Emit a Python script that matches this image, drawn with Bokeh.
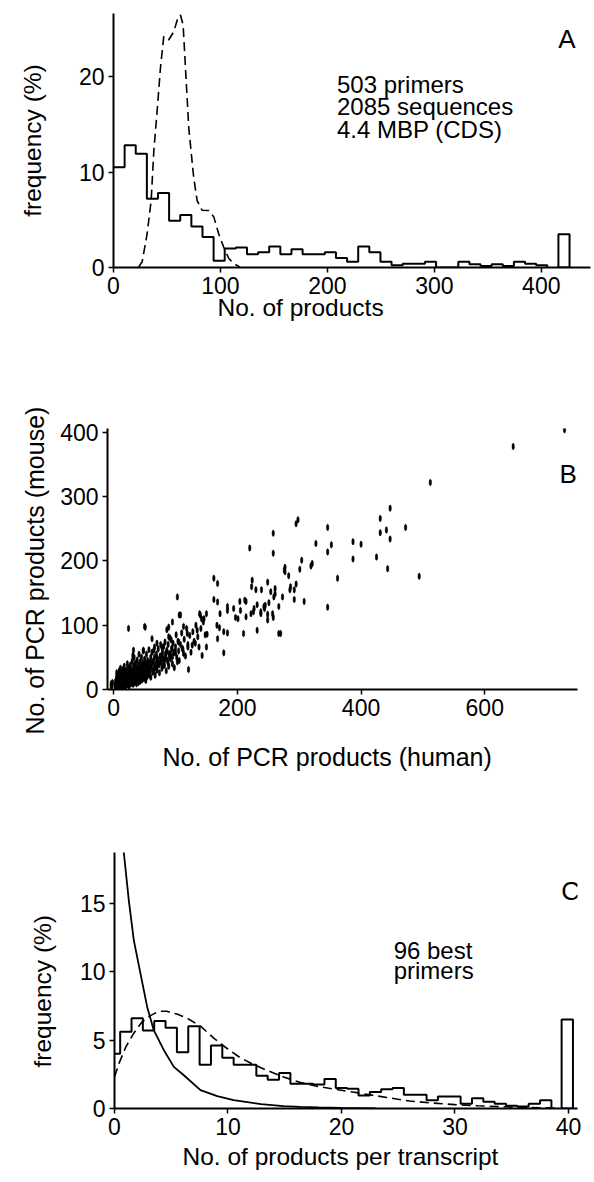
import numpy as np
from bokeh.plotting import figure
from bokeh.layouts import column
from bokeh.models import Range1d, Label, FixedTicker, Title
from bokeh.embed import file_html
from bokeh.resources import INLINE

FONT = "Liberation Sans"

# ---------------- Panel A data ----------------
a_bin_width = 10.4
a_freq = [10.5, 12.8, 11.9, 7.2, 7.8, 4.9, 5.5, 4.3, 3.2, 0.7,
          2.0, 2.1, 1.4, 1.6, 2.2, 1.4, 1.9, 1.4, 1.4, 1.6,
          1.0, 0.6, 2.2, 1.6, 0.6, 0.24, 0.4, 0.4, 0.6, 0.0,
          0.0, 0.6, 0.35, 0.17, 0.35, 0.17, 0.6, 0.4, 0.24]
a_over_lo, a_over_hi, a_over_val = 416.0, 426.4, 3.47
a_model_x = [23.6, 26.8, 31.4, 35.2, 37.7, 40.8, 43.9, 47.0, 51.7, 56.4, 59.5, 62.6,
             65.1, 67.3, 70.4, 75.0, 78.2, 82.8, 89.0, 93.8, 98.4, 103.0, 107.8, 112.4, 118.0]
a_model_y = [0.06, 0.6, 3.5, 7.0, 12.2, 16.4, 20.9, 24.2, 23.85, 24.7, 25.9, 26.45,
             25.4, 20.9, 14.6, 9.4, 7.0, 6.0, 5.97, 5.3, 3.5, 2.15, 0.94, 0.42, 0.06]
a_xticks = [0, 100, 200, 300, 400]
a_yticks = [0, 10, 20]
a_notes = ["503 primers", "2085 sequences", "4.4 MBP (CDS)"]

# ---------------- Panel B data ----------------
b_human = [729, 646, 512, 494, 472, 447, 447, 443, 441, 431, 431, 425, 400, 387, 387, 362,
           352, 346, 346, 346, 327, 321, 319, 308, 304, 301, 298, 295, 295, 292, 292, 285,
           283, 277, 277, 273, 270, 267, 261, 261, 258, 258, 258, 254, 251, 249, 249, 245,
           244, 239, 238, 232, 232, 230, 227, 226, 223, 224, 222, 220, 214, 214, 212, 210,
           205, 204, 201, 197, 194, 184, 184, 184, 178, 178, 172, 171, 168, 168, 168, 167,
           162, 162, 151, 150, 146, 143, 142, 140, 139, 135, 132, 127, 121, 120, 119, 113,
           113, 111, 108, 106, 105, 103, 103, 100, 95, 95, 93, 89, 89, 86, 84, 78,
           76, 70, 65, 62, 51, 50, 48, 32, 31, 24, 257, 259, 267, 243, 238, 249, 286, 276,
           # dense cluster
           -4, -4, -3, -2, 2, 4, 4, 5, 5, 6, 6, 7, 7, 8, 8, 9, 9, 10, 10, 10,
           11, 11, 12, 12, 13, 13, 14, 14, 15, 15, 16, 16, 17, 17, 18, 18, 19, 19, 20, 20,
           21, 21, 22, 22, 23, 23, 24, 24, 25, 25, 26, 26, 27, 27, 28, 28, 29, 29, 30, 30,
           31, 31, 32, 32, 33, 33, 34, 34, 35, 35, 36, 36, 37, 37, 38, 38, 39, 39, 40, 40,
           41, 41, 42, 42, 43, 43, 44, 44, 45, 45, 46, 46, 47, 47, 48, 48, 49, 49, 50, 50,
           51, 52, 52, 53, 53, 54, 55, 55, 56, 57, 57, 58, 59, 60, 60,
           61, 62, 63, 64, 65, 66, 66, 67, 68, 69, 70, 71, 72, 73, 74, 75, 76, 77, 78, 79, 80,
           81, 82, 83, 84, 85, 86, 87, 88, 89, 90, 91, 92, 94, 95, 96, 97, 98, 100, 101, 102,
           104, 105, 106, 108, 110,
           112, 114, 116, 118, 120, 123, 125, 128, 130, 133, 136, 138, 141, 145, 148, 150,
           3, 5, 7, 9, 11, 13, 15, 17, 19, 21, 23, 25, 27, 29, 31, 33, 35, 37, 39, 41,
           43, 45, 47, 49, 51, 53, 55, 57, 59, 4, 8, 12, 16, 20, 24, 28, 32, 36, 40, 44,
           48, 52, 56, 6, 10, 14, 18, 22, 26, 30, 34, 38, 42, 46, 50, 54, 58, 62, 66, 70,
           74, 78, 82, 86, 90, 94, 98, 64, 68, 72, 76, 80, 84, 88, 92]
b_mouse = [404, 378, 322, 176, 252, 282, 234, 188, 248, 266, 244, 206, 226, 230, 203, 173,
           225, 252, 214, 128, 227, 196, 192, 137, 201, 187, 264, 258, 164, 155, 140, 155,
           177, 190, 183, 144, 87, 129, 157, 149, 243, 212, 112, 152, 135, 167, 117, 131,
           126, 155, 121, 132, 92, 155, 126, 121, 160, 170, 118, 220, 137, 113, 139, 87,
           123, 137, 110, 112, 126, 129, 123, 88, 90, 57, 118, 96, 165, 136, 79, 100,
           173, 140, 86, 66, 110, 53, 110, 116, 118, 92, 72, 69, 31, 66, 87, 98,
           56, 64, 116, 116, 74, 144, 43, 58, 105, 51, 77, 97, 82, 93, 56, 66,
           46, 72, 61, 79, 97, 98, 61, 61, 53, 95, 118, 144, 87, 129, 118, 108, 160, 186,
           # dense cluster
           4, 9, 6, 11, 6, 8, 14, 20, 26, 4, 11, 17, 23, 2, 9, 14, 29, 6, 19, 24,
           11, 33, 4, 16, 21, 27, 9, 13, 31, 18, 6, 24, 14, 36, 10, 28, 19, 3, 22, 12,
           30, 7, 16, 40, 25, 11, 19, 33, 5, 14, 27, 21, 38, 9, 17, 31, 24, 12, 44, 20,
           8, 28, 15, 36, 22, 50, 11, 30, 18, 41, 25, 14, 33, 9, 21, 46, 28, 16, 38, 12,
           24, 55, 31, 18, 43, 13, 27, 36, 20, 50, 33, 15, 41, 26, 22, 60, 37, 17, 30, 47,
           25, 40, 14, 55, 33, 20, 45, 28, 37, 24, 62, 42, 30, 50, 19,
           36, 58, 27, 44, 32, 66, 50, 22, 40, 55, 30, 47, 63, 38, 26, 52, 70, 43, 33, 58, 48,
           67, 38, 74, 52, 29, 61, 45, 70, 36, 56, 80, 48, 64, 40, 72, 58, 34, 66, 85, 50,
           75, 60, 45, 70, 88,
           62, 78, 52, 95, 70, 84, 58, 90, 75, 100, 82, 66, 95, 105, 85, 118,
           12, 17, 9, 22, 15, 26, 7, 19, 29, 13, 24, 34, 17, 10, 28, 21, 39, 25, 14, 32,
           23, 36, 29, 19, 43, 27, 35, 23, 40, 3, 5, 8, 4, 10, 7, 13, 9, 16, 11, 18,
           26, 20, 31, 2, 4, 6, 7, 10, 12, 15, 13, 18, 22, 17, 27, 23, 30, 42, 35, 48,
           40, 54, 46, 59, 52, 64, 57, 29, 34, 39, 44, 37, 49, 42, 55]
b_xticks = [0, 200, 400, 600]
b_yticks = [0, 100, 200, 300, 400]

# ---------------- Panel C data ----------------
c_edges = [0.0] + [k + 0.5 for k in range(39)]
c_freq = [4.0, 5.6, 6.6, 5.7, 6.4, 5.9, 4.1, 6.0, 3.2, 4.6,
          3.7, 3.2, 3.2, 2.4, 2.1, 2.6, 1.8, 1.8, 1.75, 2.15,
          1.5, 1.45, 0.95, 1.2, 1.4, 1.5, 1.0, 1.0, 0.6, 0.88,
          0.88, 0.34, 0.75, 0.5, 0.34, 0.2, 0.15, 0.34, 0.6]
c_over_lo, c_over_hi, c_over_val = 39.4, 40.4, 6.5
c_solid_x = [0.6, 0.82, 1.26, 1.7, 2.29, 2.88, 3.46, 4.35, 5.23, 6.11, 7.58, 9.05, 10.5,
             12.9, 14.9, 16.4, 18.0, 20.0, 23.0]
c_solid_y = [23.0, 18.7, 15.2, 12.3, 9.85, 7.42, 5.72, 4.26, 3.04, 2.43, 1.34, 0.9, 0.61,
             0.32, 0.17, 0.12, 0.08, 0.04, 0.0]
c_dash_x = [0.0, 0.4, 1.0, 1.7, 2.4, 3.2, 3.9, 4.6, 5.5, 6.4, 7.6, 8.8, 9.9, 11.1, 12.3, 13.4,
            14.9, 16.4, 18.0, 19.5, 21.0, 22.5, 24.0, 26.0, 28.0, 30.0, 32.0, 34.0, 36.0, 38.0, 39.0]
c_dash_y = [2.3, 3.3, 4.5, 5.5, 6.3, 6.8, 7.1, 7.1, 6.9, 6.6, 6.0, 5.1, 4.4, 3.7, 3.2, 2.8,
            2.3, 1.9, 1.6, 1.4, 1.2, 1.0, 0.8, 0.55, 0.4, 0.28, 0.2, 0.13, 0.08, 0.05, 0.03]
c_xticks = [0, 10, 20, 30, 40]
c_yticks = [0, 5, 10, 15]
c_notes = ["96 best", "primers"]


def make_fig(xr, yr, h, left, right, top, bottom, xt, yt):
    p = figure(width=594, height=h, x_range=Range1d(*xr), y_range=Range1d(*yr),
               output_backend="svg", toolbar_location=None,
               min_border_left=left, min_border_right=right,
               min_border_top=top, min_border_bottom=bottom)
    p.frame_align = False
    p.xgrid.visible = False
    p.ygrid.visible = False
    p.outline_line_color = None
    p.background_fill_color = "white"
    p.border_fill_color = "white"
    for ax in (p.xaxis[0], p.yaxis[0]):
        ax.axis_line_width = 2
        ax.axis_line_color = "black"
        ax.major_tick_line_width = 1.5
        ax.major_tick_line_color = "black"
        ax.major_tick_in = 0
        ax.major_tick_out = 5
        ax.minor_tick_line_color = None
        ax.major_label_text_font = FONT
        ax.major_label_text_font_size = "23px"
        ax.major_label_text_color = "black"
        ax.major_label_standoff = 4
        ax.axis_label_text_font = FONT
        ax.axis_label_text_font_size = "24.5px"
        ax.axis_label_text_font_style = "normal"
        ax.axis_label_text_color = "black"
    p.xaxis.ticker = FixedTicker(ticks=xt)
    p.yaxis.ticker = FixedTicker(ticks=yt)
    return p


def add_label(p, x, y, text, size="24px", align="center"):
    p.add_layout(Label(x=x, y=y, text=text, text_font=FONT, text_font_size=size,
                       text_align=align, text_baseline="middle", text_color="black"))


def add_title(p, text, place, align, offset, standoff, size="24.5px", valign="bottom"):
    p.add_layout(Title(text=text, align=align, offset=offset, standoff=standoff,
                       vertical_align=valign,
                       text_font=FONT, text_font_size=size, text_font_style="normal",
                       text_color="black"), place)


def step_path(edges, vals):
    return list(edges), list(vals) + [0.0]

# ---------------- Panel A ----------------
pa = make_fig((0, 446), (0, 26.6), 330, 113, 4, 13, 63, a_xticks, a_yticks)
a_edges = [i * a_bin_width for i in range(len(a_freq) + 1)]
xs, ys = step_path(a_edges, a_freq)
pa.step(xs, ys, mode="after", line_color="black", line_width=2)
pa.quad(left=[a_over_lo], right=[a_over_hi], bottom=[0], top=[a_over_val],
        fill_color="white", line_color="black", line_width=2)
pa.line(a_model_x, a_model_y, line_color="black", line_width=1.6, line_dash="9 5")
for i, t in enumerate(a_notes):
    add_label(pa, 209, 19.2 - 2.35 * i, t, size="24px", align="left")
add_label(pa, 424, 23.9, "A", size="26px")
add_title(pa, "No. of products", "below", "left", 104, -10)
pa.yaxis.axis_label = "frequency (%)"
pa.yaxis.axis_label_standoff = 30

# ---------------- Panel B ----------------
pb = make_fig((-10, 750), (0, 406), 475, 107, 17, 98, 116, b_xticks, b_yticks)
pb.ellipse(b_human, b_mouse, width=2.4, height=6.5, width_units="screen",
           height_units="screen", fill_color="black", line_color="black", line_width=0.5)
add_label(pb, 735, 335, "B", size="26px")
add_title(pb, "No. of PCR products (human)", "below", "left", 55, 44, size="25px")
add_title(pb, "No. of PCR products (mouse)", "left", "left", -45, 17, size="25px")

# ---------------- Panel C ----------------
pc = make_fig((0, 40.8), (0, 18.7), 377, 114, 17, 47, 74, c_xticks, c_yticks)
xs, ys = step_path(c_edges, c_freq)
pc.step(xs, ys, mode="after", line_color="black", line_width=2)
pc.quad(left=[c_over_lo], right=[c_over_hi], bottom=[0], top=[c_over_val],
        fill_color="white", line_color="black", line_width=2)
pc.line(c_dash_x, c_dash_y, line_color="black", line_width=1.6, line_dash="9 5")
pc.line(c_solid_x, c_solid_y, line_color="black", line_width=1.8)
for i, t in enumerate(c_notes):
    add_label(pc, 24.6, 11.55 - 1.45 * i, t, size="24px", align="left")
add_label(pc, 40.2, 15.9, "C", size="26px")
add_title(pc, "No. of products per transcript", "below", "left", 68, 6)
add_title(pc, "frequency (%)", "left", "left", 41, 37, valign="top")

layout = column(pa, pb, pc)
open("out.html", "w").write(file_html(layout, INLINE))
